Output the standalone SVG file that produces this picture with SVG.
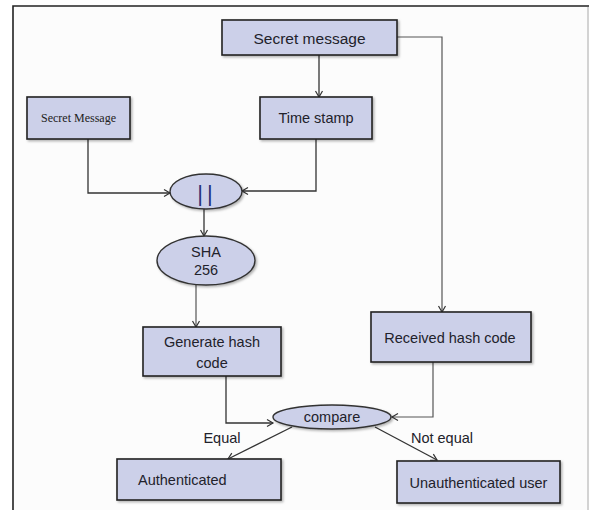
<svg xmlns="http://www.w3.org/2000/svg" width="592" height="510" viewBox="0 0 592 510">
<defs>
<marker id="arr" markerWidth="10" markerHeight="10" refX="8" refY="5" orient="auto" markerUnits="userSpaceOnUse">
<path d="M2,1.5 L8,5 L2,8.5" fill="none" stroke="#333" stroke-width="1.2"/>
</marker>
<filter id="sh" x="-10%" y="-10%" width="130%" height="140%">
<feDropShadow dx="1.5" dy="1.5" stdDeviation="1" flood-color="#000" flood-opacity="0.3"/>
</filter>
</defs>
<style>
.box{fill:#ccd0e9;stroke:#222;stroke-width:1.6;filter:url(#sh)}
.ell{fill:#ccd0e9;stroke:#333;stroke-width:1.4;filter:url(#sh)}
.t{font-family:"Liberation Sans",Arial,sans-serif;font-size:14.5px;fill:#22222b;text-anchor:middle;dominant-baseline:central}
.ts{font-family:"Liberation Serif","Times New Roman",serif;font-size:12px;fill:#222;text-anchor:middle;dominant-baseline:central}
.c{fill:none;stroke:#333;stroke-width:1.3;marker-end:url(#arr)}
.cg{fill:none;stroke:#555;stroke-width:1.2;marker-end:url(#arr)}
</style>
<rect x="13" y="6" width="576" height="504" fill="#fcfcfc"/>
<path d="M13,510 V6 H589" fill="none" stroke="#222" stroke-width="1.6"/>
<path d="M588,7 V510" fill="none" stroke="#aaa" stroke-width="1"/>
<g id="connectors">
<path class="c" d="M319,55 V97"/>
<path class="cg" d="M397,37 H442 V312"/>
<path class="c" d="M88,139 V193 H170"/>
<path class="c" d="M316,139 V191 H242"/>
<path class="c" d="M204,209 V236"/>
<path class="cg" d="M196,285 V327"/>
<path class="c" d="M226,376 V423 H273"/>
<path class="cg" d="M433,362 V417 H392"/>
<path class="c" d="M292,427 L228,459"/>
<path class="c" d="M375,427 L437,460"/>
<text class="t" x="222" y="438">Equal</text>
<text class="t" x="442" y="438">Not equal</text>
</g>
<g id="secret_message">
<rect class="box" x="222" y="20" width="175" height="35"/>
<text class="t" x="309.5" y="38" style="font-size:15.5px">Secret message</text>
</g>
<g id="secret_message_left">
<rect class="box" x="27" y="97" width="103" height="42"/>
<text class="ts" x="78.5" y="118">Secret Message</text>
</g>
<g id="time_stamp">
<rect class="box" x="260" y="97" width="112" height="42"/>
<text class="t" x="316" y="118">Time stamp</text>
</g>
<g id="concat">
<ellipse class="ell" cx="206" cy="191.5" rx="36" ry="17.5"/>
<text class="t" x="207" y="193" style="font-size:22px;fill:#283278;letter-spacing:4px">||</text>
</g>
<g id="sha256">
<ellipse class="ell" cx="206" cy="260.5" rx="49" ry="24.5"/>
<text class="t" x="206" y="252">SHA</text>
<text class="t" x="206" y="270">256</text>
</g>
<g id="generate_hash">
<rect class="box" x="143" y="327" width="138" height="49"/>
<text class="t" x="212" y="342">Generate hash</text>
<text class="t" x="212" y="363">code</text>
</g>
<g id="received_hash">
<rect class="box" x="371" y="312" width="160" height="50"/>
<text class="t" x="450" y="338">Received hash code</text>
</g>
<g id="compare">
<ellipse class="ell" cx="332" cy="417" rx="59" ry="12"/>
<text class="t" x="332" y="417">compare</text>
</g>
<g id="authenticated">
<rect class="box" x="117" y="459" width="164" height="41"/>
<text class="t" x="138" y="480" style="text-anchor:start">Authenticated</text>
</g>
<g id="unauthenticated">
<rect class="box" x="397" y="461" width="163" height="42"/>
<text class="t" x="478.5" y="483">Unauthenticated user</text>
</g>
</svg>
